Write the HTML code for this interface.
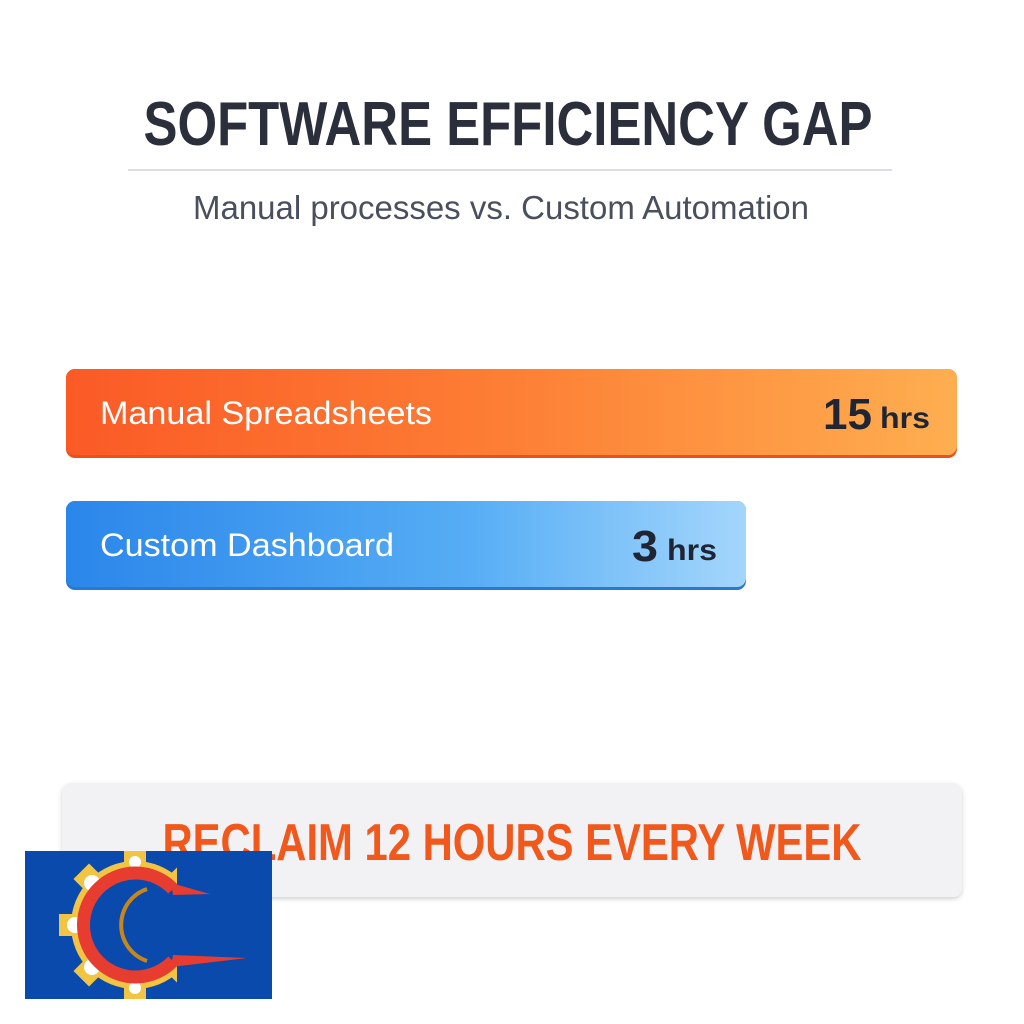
<!DOCTYPE html>
<html><head><style>
html,body{margin:0;padding:0;background:#fff;}
svg{display:block;}
</style></head><body>
<svg width="1024" height="1024" viewBox="0 0 1024 1024" xmlns="http://www.w3.org/2000/svg" font-family="Liberation Sans, sans-serif">
<defs>
<linearGradient id="g1" x1="0" y1="0" x2="1" y2="0">
<stop offset="0" stop-color="#fb5a26"/><stop offset="0.5" stop-color="#fd7f35"/><stop offset="1" stop-color="#feae50"/>
</linearGradient>
<linearGradient id="g2" x1="0" y1="0" x2="1" y2="0">
<stop offset="0" stop-color="#2a86ea"/><stop offset="0.6" stop-color="#57aef5"/><stop offset="1" stop-color="#a4d6fc"/>
</linearGradient>
<filter id="sh" x="-5%" y="-20%" width="110%" height="150%"><feDropShadow dx="0" dy="2" stdDeviation="2" flood-color="#000" flood-opacity="0.18"/></filter>
<clipPath id="lc"><rect x="25" y="851" width="247" height="148"/></clipPath>
</defs>
<rect width="1024" height="1024" fill="#fff"/>
<text x="508" y="145" text-anchor="middle" font-size="62" font-weight="bold" fill="#2b2f3b" textLength="729" lengthAdjust="spacingAndGlyphs">SOFTWARE EFFICIENCY GAP</text>
<rect x="128" y="169" width="764" height="2" fill="#dcdde2"/>
<text x="501" y="219" text-anchor="middle" font-size="33" fill="#4a4f5e" textLength="616" lengthAdjust="spacingAndGlyphs">Manual processes vs. Custom Automation</text>

<rect x="66" y="369" width="891" height="89" rx="9" fill="#e8521c"/>
<rect x="66" y="369" width="891" height="86" rx="9" fill="url(#g1)"/>
<text x="100" y="424" font-size="32" fill="#fff" textLength="332" lengthAdjust="spacingAndGlyphs">Manual Spreadsheets</text>
<text x="823" y="429" font-size="44" font-weight="bold" fill="#1f2533" textLength="49" lengthAdjust="spacingAndGlyphs">15</text>
<text x="880" y="428" font-size="30" font-weight="bold" fill="#1f2533" textLength="50" lengthAdjust="spacingAndGlyphs">hrs</text>

<rect x="66" y="501" width="680" height="89" rx="9" fill="#2a78d0"/>
<rect x="66" y="501" width="680" height="86" rx="9" fill="url(#g2)"/>
<text x="100" y="556" font-size="32" fill="#fff" textLength="294" lengthAdjust="spacingAndGlyphs">Custom Dashboard</text>
<text x="632" y="561" font-size="44" font-weight="bold" fill="#1f2533" textLength="26" lengthAdjust="spacingAndGlyphs">3</text>
<text x="667" y="560" font-size="30" font-weight="bold" fill="#1f2533" textLength="50" lengthAdjust="spacingAndGlyphs">hrs</text>

<rect x="62" y="783" width="900" height="114" rx="9" fill="#f2f2f4" filter="url(#sh)"/>
<text x="512" y="860" text-anchor="middle" font-size="52" font-weight="bold" fill="#f0581c" textLength="699" lengthAdjust="spacingAndGlyphs">RECLAIM 12 HOURS EVERY WEEK</text>

<g clip-path="url(#lc)">
<rect x="25" y="851" width="247" height="148" fill="#0a4aad"/>
<g transform="translate(135,925)">
<g fill="#f2c443">
<circle r="64"/>
<g id="t"><rect x="-11" y="-76" width="22" height="16"/></g>
<use href="#t" transform="rotate(45)"/><use href="#t" transform="rotate(90)"/><use href="#t" transform="rotate(135)"/><use href="#t" transform="rotate(180)"/><use href="#t" transform="rotate(225)"/><use href="#t" transform="rotate(-45)"/><use href="#t" transform="rotate(-90)"/>
</g>
<g fill="#fff">
<circle cx="0" cy="-63" r="6"/><circle cx="-43" cy="-42" r="8"/><circle cx="-60" cy="0" r="8"/><circle cx="-43" cy="42" r="8"/><circle cx="0" cy="63" r="6"/>
</g>
<rect x="42" y="-90" width="100" height="180" fill="#0a4aad"/>
<circle r="54" fill="#0a4aad"/>
<path d="M 38 -36 A 52 52 0 1 0 38 36" fill="none" stroke="#e63d30" stroke-width="13"/>
<path d="M 36 -42 L 75 -31 L 38 -30 Z" fill="#e63d30"/>
<path d="M 36 42 L 112 33 L 38 30 Z" fill="#e63d30"/>
<path d="M 12 -36 A 38 38 0 0 0 12 36" fill="none" stroke="#c8861a" stroke-width="4"/>
</g>
</g>
</svg>
</body></html>
